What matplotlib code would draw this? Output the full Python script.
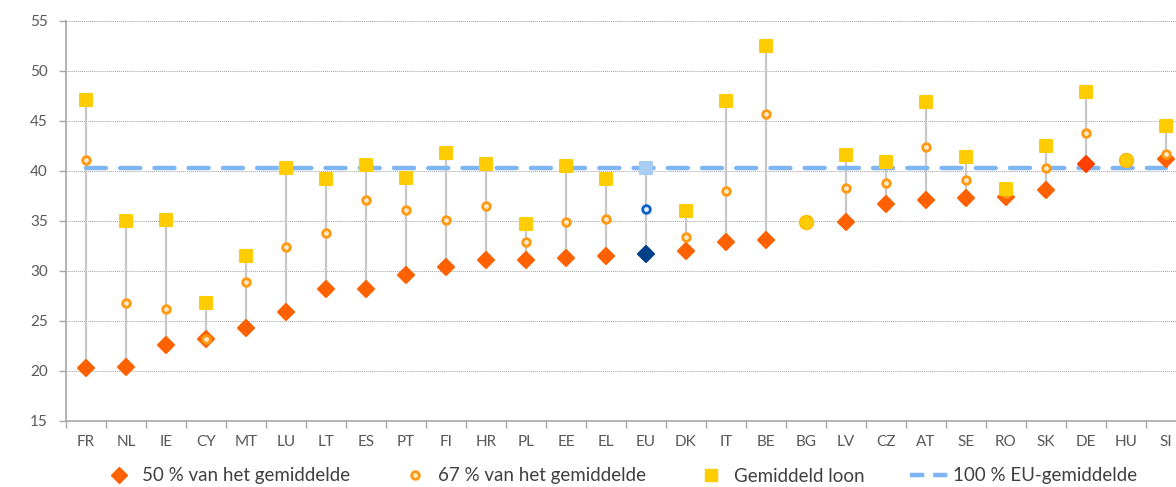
import matplotlib.pyplot as plt
from matplotlib.lines import Line2D
from matplotlib.markers import MarkerStyle

plt.rcParams['font.family'] = ['Lato', 'DejaVu Sans']

countries = ['FR', 'NL', 'IE', 'CY', 'MT', 'LU', 'LT', 'ES', 'PT', 'FI', 'HR', 'PL', 'EE', 'EL',
             'EU', 'DK', 'IT', 'BE', 'BG', 'LV', 'CZ', 'AT', 'SE', 'RO', 'SK', 'DE', 'HU', 'SI']
# None = not shown (only the single circle marker is visible for BG and HU)
pct50 = [20.3, 20.4, 22.6, 23.2, 24.3, 25.9, 28.2, 28.2, 29.6, 30.4, 31.1, 31.1, 31.3, 31.5,
         31.7, 32.0, 32.9, 33.1, None, 34.9, 36.7, 37.1, 37.3, 37.4, 38.1, 40.7, None, 41.2]
pct67 = [41.1, 26.8, 26.2, 23.2, 28.9, 32.4, 33.8, 37.1, 36.1, 35.1, 36.5, 32.9, 34.9, 35.2,
         36.2, 33.4, 38.0, 45.7, None, 38.3, 38.8, 42.4, 39.1, 37.8, 40.3, 43.8, None, 41.7]
average = [47.1, 35.0, 35.1, 26.8, 31.5, 40.3, 39.2, 40.6, 39.3, 41.8, 40.7, 34.7, 40.5, 39.2,
           40.3, 36.0, 47.0, 52.5, 34.9, 41.6, 40.9, 46.9, 41.4, 38.2, 42.5, 47.9, 41.1, 44.5]
eu_level = 40.3

c50 = '#FF6000'
c67 = '#FF9A10'
cavg = '#FFCC00'
cline = '#7FB5F2'
grey = '#595959'

fig = plt.figure(figsize=(11.76, 4.87), dpi=100)
ax = fig.add_axes([66 / 1176, 66 / 487, 1120 / 1176, 400 / 487])

xs = list(range(len(countries)))
sq = MarkerStyle('s', joinstyle='round')
dia = MarkerStyle('D', joinstyle='round')

# grey drop lines from lowest to highest value
for i in xs:
    vals = [v for v in (pct50[i], pct67[i], average[i]) if v is not None]
    ax.plot([i, i], [min(vals), max(vals)], color='#C8C8C8', lw=1.6, zorder=2)

# EU average line
ax.plot([0, len(countries) - 1], [eu_level, eu_level], color=cline, lw=3.2,
        dashes=(4.5, 3.2), solid_capstyle='round', dash_capstyle='round', zorder=3)

for i, c in enumerate(countries):
    if c == 'EU':
        ax.plot(i, pct50[i], marker=dia, ms=8, color='#003F8A', mew=1.5, ls='none', zorder=4)
        ax.plot(i, pct67[i], marker='o', ms=5.5, mfc='#E8F0FA', mec='#0A62C8', mew=2, ls='none', zorder=5)
        ax.plot(i, average[i], marker=sq, ms=9, color='#A9CCF5', mew=1.5, ls='none', zorder=6)
        continue
    if pct50[i] is None:
        ax.plot(i, average[i], marker='o', ms=10, mfc=cavg, mec='#FFB800', mew=1, ls='none', zorder=6)
        continue
    col = '#FF4000' if c == 'DE' else c50
    ax.plot(i, pct50[i], marker=dia, ms=8, color=col, mew=1.5, ls='none', zorder=4)
    ax.plot(i, pct67[i], marker='o', ms=5.5, mfc='#FFE9C8', mec=c67, mew=2, ls='none', zorder=5)
    ax.plot(i, average[i], marker=sq, ms=8.5, color=cavg, mew=1.5, ls='none', zorder=6)

ax.set_xlim(-0.5, len(countries) - 0.5)
ax.set_ylim(15, 55)
ax.set_yticks(range(15, 56, 5))
ax.set_xticks(xs)
ax.set_xticklabels(countries)
ax.set_xticks([i + 0.5 for i in range(-1, len(countries))], minor=True)
ax.tick_params(axis='x', which='major', length=0, pad=10, labelsize=11, labelcolor=grey)
ax.tick_params(axis='x', which='minor', length=5, color='#A6A6A6', width=1)
ax.tick_params(axis='y', length=5, color='#A6A6A6', width=1, labelsize=11, labelcolor=grey, pad=8)
ax.grid(axis='y', color='#A0A0A0', ls=(0, (1, 1)), lw=0.7, zorder=0)
for s in ['top', 'right']:
    ax.spines[s].set_visible(False)
for s in ['left', 'bottom']:
    ax.spines[s].set_color('#A6A6A6')
    ax.spines[s].set_linewidth(1.2)

handles = [
    Line2D([], [], marker=dia, ms=8, color=c50, ls='none'),
    Line2D([], [], marker='o', ms=5.5, mfc='#FFE9C8', mec=c67, mew=2, ls='none'),
    Line2D([], [], marker=sq, ms=8.5, color=cavg, ls='none'),
    Line2D([], [], color=cline, lw=3.2, dashes=(3.2, 2.0)),
]
labels = ['50 % van het gemiddelde', '67 % van het gemiddelde', 'Gemiddeld loon', '100 % EU-gemiddelde']
fig.legend(handles, labels, loc='center', bbox_to_anchor=(618 / 1176, 1 - 476 / 487), ncol=4,
           frameon=False, fontsize=13.5, labelcolor='#404040', handlelength=2.1,
           columnspacing=2.4, handletextpad=0.2, borderaxespad=0, borderpad=0)

fig.savefig('out.png', dpi=100)
